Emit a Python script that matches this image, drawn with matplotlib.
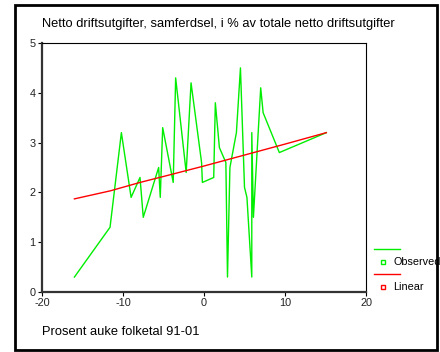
import matplotlib
matplotlib.use('Agg')
import matplotlib.pyplot as plt
import matplotlib.lines as ln
import matplotlib.patches as mp

# observed values (sorted by x as in the reference)
obs_x = [-16.0, -11.6, -10.2, -9.0, -7.9, -7.5, -5.6, -5.4, -5.1, -3.8, -3.5,
         -2.2, -1.6, -0.3, -0.2, 1.2, 1.4, 1.9, 2.7, 2.9, 3.2, 4.0, 4.5, 5.0,
         5.3, 5.9, 5.9, 6.1, 7.0, 7.3, 9.3, 15.1]
obs_y = [0.3, 1.3, 3.2, 1.9, 2.3, 1.5, 2.5, 1.9, 3.3, 2.2, 4.3,
         2.4, 4.2, 2.6, 2.2, 2.3, 3.8, 2.9, 2.6, 0.3, 2.5, 3.2, 4.5, 2.1,
         1.9, 0.3, 3.2, 1.5, 4.1, 3.6, 2.8, 3.2]

# linear fit as drawn
lin_x = [-16.0, -11.6, -7.9, -5.0, 0.0, 5.0, 10.0, 15.1]
lin_y = [1.87, 2.03, 2.2, 2.32, 2.53, 2.75, 2.97, 3.2]

x_ticks = [-20, -10, 0, 10, 20]
y_ticks = [0, 1, 2, 3, 4, 5]

title = 'Netto driftsutgifter, samferdsel, i % av totale netto driftsutgifter'
xlabel = 'Prosent auke folketal 91-01'

plt.rcParams['font.family'] = ['Liberation Sans', 'DejaVu Sans']
plt.rcParams['axes.unicode_minus'] = False

W, H = 440, 352
fig = plt.figure(figsize=(W / 100, H / 100), dpi=100)
ax = fig.add_axes([42 / W, (H - 292) / H, (366 - 42) / W, (292 - 43) / H])

ax.plot(obs_x, obs_y, color='#00ee00', lw=1.0)
ax.plot(lin_x, lin_y, color='#ff0000', lw=1.0)

ax.set_xlim(-20, 20)
ax.set_ylim(0, 5)
ax.set_xticks(x_ticks)
ax.set_yticks(y_ticks)
ax.tick_params(labelsize=7.8, length=3, width=0.8, pad=1.5, labelcolor='#222222')
for s in ['left', 'bottom']:
    ax.spines[s].set_linewidth(1.6)
    ax.spines[s].set_color('#333333')
for s in ['top', 'right']:
    ax.spines[s].set_linewidth(0.8)
    ax.spines[s].set_color('black')

fig.text(42 / W, 1 - 24 / H, title, fontsize=9.3, va='center', ha='left')
fig.text(42 / W, 1 - 332 / H, xlabel, fontsize=9.3, va='center', ha='left')

# legend in SPSS style: line on one row, marker + label on the next
def px(x, y):
    return x / W, 1 - y / H

for i, (lab, col) in enumerate([('Observed', '#00ee00'), ('Linear', '#ff0000')]):
    y0 = 249 + i * 25
    x1, yy = px(374, y0)
    x2, _ = px(400, y0)
    fig.add_artist(ln.Line2D([x1, x2], [yy, yy], color=col, lw=1.0))
    mx, my = px(383, y0 + 13)
    fig.add_artist(ln.Line2D([mx], [my], marker='s', markersize=3,
                             markerfacecolor='white', markeredgecolor=col,
                             markeredgewidth=1.0, linestyle='none'))
    tx, ty = px(393, y0 + 13)
    fig.text(tx, ty, lab, fontsize=7.8, va='center', ha='left')

# outer frame
fig.add_artist(mp.Rectangle((15 / W, 1 - 350 / H), (437 - 15) / W, (350 - 5) / H,
                            fill=False, edgecolor='black', lw=2.0,
                            transform=fig.transFigure))

fig.savefig('out.png', dpi=100)
